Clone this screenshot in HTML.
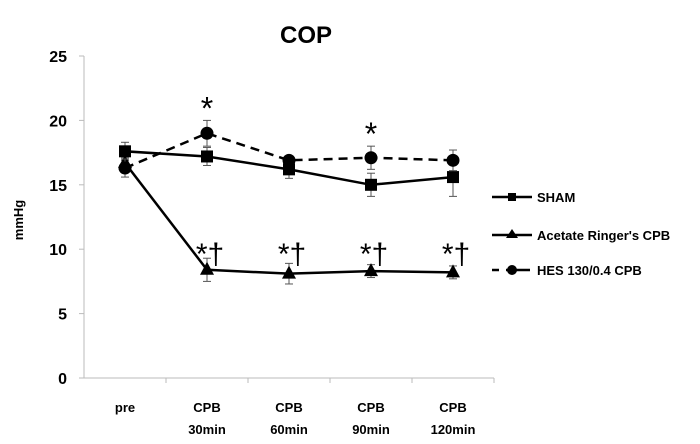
<!DOCTYPE html>
<html><head><meta charset="utf-8"><style>
body{margin:0;background:#fff;}
svg{display:block;font-family:"Liberation Sans",Arial,sans-serif;font-weight:bold;}
</style></head><body>
<svg id="chart" width="700" height="444" viewBox="0 0 700 444">
<text x="306" y="43" font-size="24" text-anchor="middle">COP</text>
<text transform="translate(23,220) rotate(-90)" font-size="13" text-anchor="middle">mmHg</text>
<g id="axes"></g>
<g id="lines"></g>
<g id="annotations"></g>
<g id="legend"></g>
</svg>
<script>
const categories = ["pre", "CPB|30min", "CPB|60min", "CPB|90min", "CPB|120min"];
const yTicks = [0, 5, 10, 15, 20, 25];
const shamValues = [17.6, 17.2, 16.2, 15.0, 15.6];
const shamErr = [0.7, 0.7, 0.7, 0.9, 1.5];
const acetateValues = [16.7, 8.4, 8.1, 8.3, 8.2];
const acetateErr = [0.4, 0.9, 0.8, 0.5, 0.5];
const hesValues = [16.3, 19.0, 16.9, 17.1, 16.9];
const hesErr = [0.7, 1.0, 0.3, 0.9, 0.8];
const starHes = [false, true, false, true, false];
const starAcetate = [false, true, true, true, true];

const NS = "http://www.w3.org/2000/svg";
const x0 = 84, y0 = 378, pxPerUnit = 12.88, band = 82;
function xScale(i){ return x0 + band/2 + i*band; }
function yScale(v){ return y0 - v*pxPerUnit; }
function mk(tag, attrs, parent){ const e=document.createElementNS(NS,tag); for(const k in attrs) e.setAttribute(k,attrs[k]); parent.appendChild(e); return e; }

const axes = document.getElementById("axes");
const ya = mk("line",{x1:x0,y1:yScale(25),x2:x0,y2:y0,stroke:"#bbb","stroke-width":1},axes);


const xa = mk("line",{x1:x0,y1:y0,x2:x0+band*5,y2:y0,stroke:"#bbb","stroke-width":1},axes);


yTicks.forEach(t=>{
  const y=yScale(t);
  mk("line",{x1:x0-5,y1:y,x2:x0,y2:y,stroke:"#bbb"},axes);
  const tx=mk("text",{x:67,y:y+6,"font-size":16,"text-anchor":"end"},axes);
  tx.textContent=t;
  
  
});
for(let i=1;i<=5;i++){ mk("line",{x1:x0+i*band,y1:y0,x2:x0+i*band,y2:y0+5,stroke:"#bbb"},axes); }
categories.forEach((c,i)=>{
  const parts=c.split("|");
  parts.forEach((p,j)=>{
    const tx=mk("text",{x:xScale(i),y:412+j*22,"font-size":13,"text-anchor":"middle"},axes);
    tx.textContent=p;
    
    
  });
});

const lines=document.getElementById("lines");
function marker(shape,x,y,parent){
  let m;
  if(shape==="square") m=mk("rect",{x:x-6,y:y-6,width:12,height:12,fill:"#000"},parent);
  else if(shape==="tri") m=mk("polygon",{points:`${x},${y-8} ${x-7},${y+5} ${x+7},${y+5}`,fill:"#000"},parent);
  else m=mk("circle",{cx:x,cy:y,r:6.5,fill:"#000"},parent);
  return m;
}
function series(vals,errs,shape,dash,name){
  const g=mk("g",{},lines);
  
  
  vals.forEach((v,i)=>{
    const x=xScale(i);
    mk("line",{x1:x,y1:yScale(v-errs[i]),x2:x,y2:yScale(v+errs[i]),stroke:"#555","stroke-width":1},g);
    mk("line",{x1:x-4,y1:yScale(v+errs[i]),x2:x+4,y2:yScale(v+errs[i]),stroke:"#555"},g);
    mk("line",{x1:x-4,y1:yScale(v-errs[i]),x2:x+4,y2:yScale(v-errs[i]),stroke:"#555"},g);
  });
  const pts=vals.map((v,i)=>xScale(i)+","+yScale(v)).join(" ");
  mk("polyline",{points:pts,fill:"none",stroke:"#000","stroke-width":2.5,"stroke-dasharray":dash?"9,6":"none"},g);
  vals.forEach((v,i)=>{
    const m=marker(shape,xScale(i),yScale(v),g);
    
    
  });
}
series(shamValues,shamErr,"square",false,"sham-series");
series(acetateValues,acetateErr,"tri",false,"acetate-series");
series(hesValues,hesErr,"circle",true,"hes-series");

const ann=document.getElementById("annotations");
starHes.forEach((s,i)=>{ if(!s) return;
  const t=mk("text",{x:xScale(i),y:yScale(hesValues[i]+hesErr[i])-1,"font-size":32,"font-weight":"normal","text-anchor":"middle"},ann);
  t.textContent="*";
  
  
});
starAcetate.forEach((s,i)=>{ if(!s) return;
  const t=mk("text",{x:xScale(i)+3,y:yScale(10)+15,"font-size":30,"font-weight":"normal","text-anchor":"middle"},ann);
  t.textContent="*†";
  
  
});

const leg=document.getElementById("legend");
const legItems=[["SHAM","square",false,197],["Acetate Ringer's CPB","tri",false,235],["HES 130/0.4 CPB","circle",true,270]];
legItems.forEach(([label,shape,dash,y])=>{
  const g=mk("g",{},leg);
  
  
  if(dash){ mk("line",{x1:492,y1:y,x2:499,y2:y,stroke:"#000","stroke-width":2.5},g); mk("line",{x1:506,y1:y,x2:530,y2:y,stroke:"#000","stroke-width":2.5},g); }
  else mk("line",{x1:492,y1:y,x2:532,y2:y,stroke:"#000","stroke-width":2.5},g);
  const m=marker(shape,512,y,g);
  if(shape==="square"){m.setAttribute("x",508);m.setAttribute("y",y-4);m.setAttribute("width",8);m.setAttribute("height",8);}
  if(shape==="circle"){m.setAttribute("r",5);}
  if(shape==="tri"){m.setAttribute("points",`512,${y-6} 506,${y+3} 518,${y+3}`);}
  const t=mk("text",{x:537,y:y+5,"font-size":13},g);
  t.textContent=label;
});
</script>
</body></html>
